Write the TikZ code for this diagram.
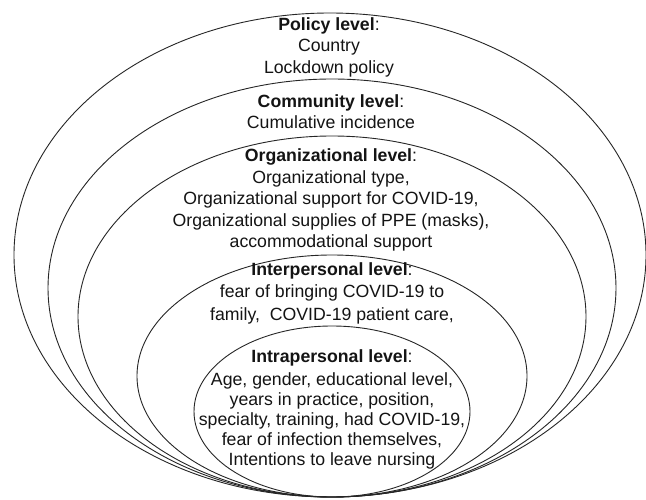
\documentclass[tikz,border=0pt]{standalone}
\usepackage{fontspec}
\setmainfont{Liberation Sans}
\begin{document}
\begin{tikzpicture}[x=1pt,y=-1pt,
  ring/.style={draw=black!85, line width=0.9pt},
  label/.style={align=center, text=black!92, inner sep=0pt,
    font=\fontsize{17.7pt}{21.5pt}\selectfont},
  inner label/.style={label, font=\fontsize{17.7pt}{20pt}\selectfont}]
\useasboundingbox (0,0) rectangle (646,500);
\fill[white] (0,0) rectangle (646,500);

% nested levels, all sharing the same lowest point
\draw[ring] (330,255)   ellipse [x radius=316pt, y radius=242pt];
\draw[ring] (332,288)   ellipse [x radius=284pt, y radius=209pt];
\draw[ring] (332,316.5) ellipse [x radius=254pt, y radius=180.5pt];
\draw[ring] (332,376)   ellipse [x radius=195pt, y radius=121pt];
\draw[ring] (332,411.5) ellipse [x radius=138pt, y radius=85.5pt];

\node[label] (policy) at (329,47)
  {\textbf{Policy level}:\\Country\\Lockdown policy};
\node[label] (community) at (331,111.5)
  {\textbf{Community level}:\\Cumulative incidence};
\node[label] (organizational) at (331,200)
  {\textbf{Organizational level}:\\Organizational type,\\Organizational support for COVID-19,\\Organizational supplies of PPE (masks),\\accommodational support};
\node[label, font=\fontsize{17.7pt}{22.5pt}\selectfont] (interpersonal) at (332,293)
  {\textbf{Interpersonal level}:\\fear of bringing COVID-19 to\\family,\ \ COVID-19 patient care,};
\node[inner label] (intrapersonal) at (332,409)
  {\textbf{Intrapersonal level}:\\[3pt]Age, gender, educational level,\\years in practice, position,\\specialty, training, had COVID-19,\\fear of infection themselves,\\Intentions to leave nursing};
\end{tikzpicture}
\end{document}
